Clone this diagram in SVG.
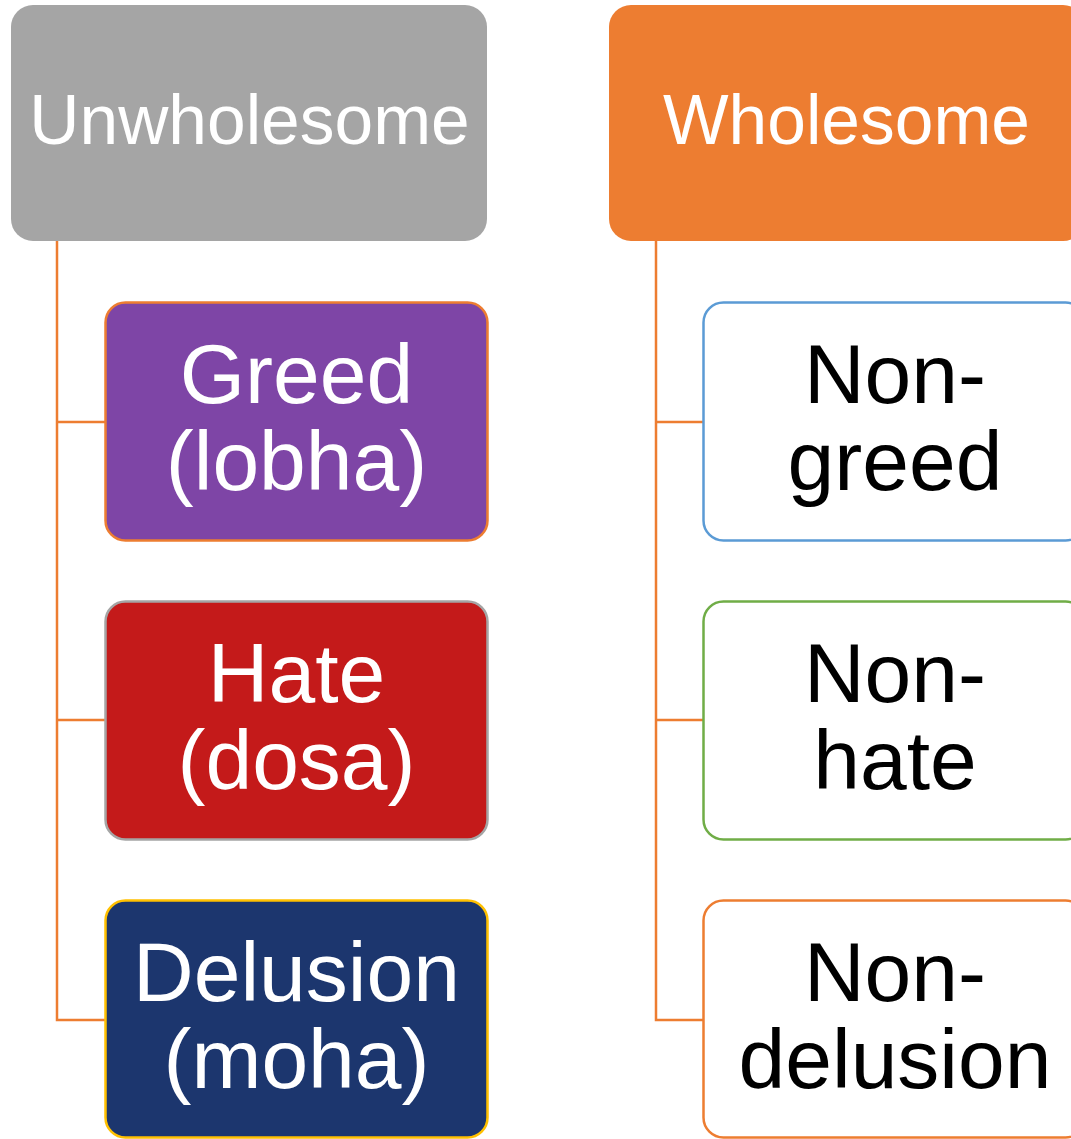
<svg xmlns="http://www.w3.org/2000/svg" width="1071" height="1139" viewBox="0 0 1071 1139">
<style>
text{font-family:"Liberation Sans",Arial,sans-serif;text-anchor:middle}
.hd{font-size:69.5px;fill:#fff}
.ch{font-size:84px}
.w{fill:#fff}
.k{fill:#000}
.conn{stroke:#ED7D31;stroke-width:2.5;fill:none}
</style>
<rect width="1071" height="1139" fill="#fff"/>
<g id="connectors">
<path class="conn" d="M57,241 V1020 H105 M57,422 H105 M57,720 H105"/>
<path class="conn" d="M656,241 V1020 H703 M656,422 H703 M656,720 H703"/>
</g>
<g id="unwholesome">
<rect x="11" y="5" width="476" height="236" rx="22" fill="#A5A5A5"/>
<text class="hd" x="249.5" y="144">Unwholesome</text>
</g>
<g id="wholesome">
<rect x="609" y="5" width="476" height="236" rx="22" fill="#ED7D31"/>
<text class="hd" x="846.5" y="144">Wholesome</text>
</g>
<g id="greed">
<rect x="105.5" y="302.5" width="382" height="238" rx="20" fill="#7E45A6" stroke="#ED7D31" stroke-width="2.5"/>
<text class="ch w" x="296.5" y="403">Greed</text>
<text class="ch w" x="296.5" y="490">(lobha)</text>
</g>
<g id="hate">
<rect x="105.5" y="601.5" width="382" height="238" rx="20" fill="#C41A1A" stroke="#A5A5A5" stroke-width="2.5"/>
<text class="ch w" x="296.5" y="702">Hate</text>
<text class="ch w" x="296.5" y="789">(dosa)</text>
</g>
<g id="delusion">
<rect x="105.5" y="900.5" width="382" height="237" rx="20" fill="#1C366E" stroke="#FFC000" stroke-width="2.5"/>
<text class="ch w" x="296.5" y="1001">Delusion</text>
<text class="ch w" x="296.5" y="1088">(moha)</text>
</g>
<g id="non-greed">
<rect x="703.5" y="302.5" width="382" height="238" rx="20" fill="#fff" stroke="#5B9BD5" stroke-width="2.5"/>
<text class="ch k" x="895" y="403">Non-</text>
<text class="ch k" x="895" y="490">greed</text>
</g>
<g id="non-hate">
<rect x="703.5" y="601.5" width="382" height="238" rx="20" fill="#fff" stroke="#70AD47" stroke-width="2.5"/>
<text class="ch k" x="895" y="702">Non-</text>
<text class="ch k" x="895" y="789">hate</text>
</g>
<g id="non-delusion">
<rect x="703.5" y="900.5" width="382" height="237" rx="20" fill="#fff" stroke="#ED7D31" stroke-width="2.5"/>
<text class="ch k" x="895" y="1001">Non-</text>
<text class="ch k" x="895" y="1088">delusion</text>
</g>
</svg>
